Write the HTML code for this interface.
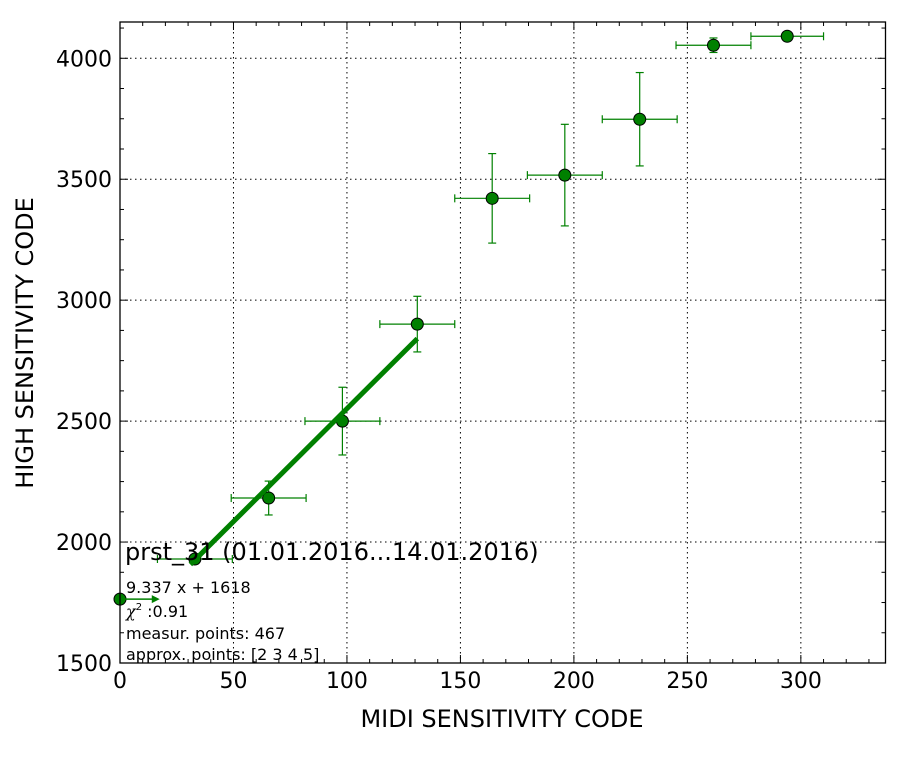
<!DOCTYPE html>
<html><head><meta charset="utf-8"><style>
body{margin:0;background:#fff;}
svg text{font-family:"DejaVu Sans","Liberation Sans",sans-serif;}
</style></head><body>
<svg id="chart" width="912" height="762" xmlns="http://www.w3.org/2000/svg">
<rect width="912" height="762" fill="#fff"/>
<g id="grid"></g><g id="ticks"></g><g id="marks"></g>
<rect x="120" y="22" width="765.5" height="641" fill="none" stroke="#000" stroke-width="1.3"/>
<text x="502" y="727" font-size="24" text-anchor="middle">MIDI SENSITIVITY CODE</text>
<text transform="translate(33,343) rotate(-90)" font-size="24" text-anchor="middle">HIGH SENSITIVITY CODE</text>
<g>
<text x="125" y="560" font-size="24">prst_31 (01.01.2016...14.01.2016)</text>
<text x="126" y="593" font-size="16">9.337 x + 1618</text>
<text x="126" y="617" font-size="16"><tspan font-family="DejaVu Serif,serif" font-style="italic">χ</tspan><tspan font-size="10" dy="-7">2</tspan><tspan dy="7"> :0.91</tspan></text>
<text x="126" y="639" font-size="16">measur. points: 467</text>
<text x="126" y="660" font-size="16">approx. points: [2 3 4 5]</text>
</g>
</svg>
<script>
const xVals=[0,33,65.5,98,131,164,196,229,261.5,294];
const yVals=[1764,1930,2182,2500,2901,3421,3517,3748,4054,4091];
const xErr=[0,16.5,16.5,16.5,16.5,16.5,16.5,16.5,16.5,16];
const yErr=[0,12,70,140,115,185,210,193,30,0];
const xTicks=[0,50,100,150,200,250,300];
const yTicks=[1500,2000,2500,3000,3500,4000];
const fitSlope=9.337, fitIntercept=1618, fitRange=[31,131];
const X0=120,X1=885.5,Y0=663,Y1=22,xmin=0,xmax=337.3,ymin=1500,ymax=4150;
const sx=v=>X0+(v-xmin)/(xmax-xmin)*(X1-X0);
const sy=v=>Y0-(v-ymin)/(ymax-ymin)*(Y0-Y1);
const NS="http://www.w3.org/2000/svg";
function mk(p,t,a){const e=document.createElementNS(NS,t);for(const k in a)e.setAttribute(k,a[k]);p.appendChild(e);return e;}
const grid=document.getElementById('grid'),ticks=document.getElementById('ticks'),marks=document.getElementById('marks');
xTicks.forEach(v=>{const x=sx(v);
 const g=mk(grid,'line',{x1:x,x2:x,y1:Y1,y2:Y0,stroke:'#000','stroke-dasharray':'1.5,3.5','stroke-width':1});
 
 
 const t=mk(ticks,'text',{x:x,y:688,'font-size':22,'text-anchor':'middle'});t.textContent=v;
 
 
});
for(let v=10;v<xmax;v+=10){const x=sx(v);const L=(v%50===0)?8:4;
 mk(ticks,'line',{x1:x,x2:x,y1:Y0,y2:Y0-L,stroke:'#000'});mk(ticks,'line',{x1:x,x2:x,y1:Y1,y2:Y1+L,stroke:'#000'});}
yTicks.forEach(v=>{const y=sy(v);
 const g=mk(grid,'line',{x1:X0,x2:X1,y1:y,y2:y,stroke:'#000','stroke-dasharray':'1.5,3.5','stroke-width':1});
 
 
 const t=mk(ticks,'text',{x:112,y:y+8,'font-size':22,'text-anchor':'end'});t.textContent=v;
 
 
});
for(let v=1625;v<ymax;v+=125){const y=sy(v);const L=(v%500===0)?8:4;
 mk(ticks,'line',{x1:X0,x2:X0+L,y1:y,y2:y,stroke:'#000'});mk(ticks,'line',{x1:X1,x2:X1-L,y1:y,y2:y,stroke:'#000'});}
const G='#008000';
xVals.forEach((xv,i)=>{const cx=sx(xv),cy=sy(yVals[i]);
 const g=mk(marks,'g',{});
 
 
 if(xErr[i]>0){const xl=sx(xv-xErr[i]),xr=sx(xv+xErr[i]);
  mk(g,'line',{x1:xl,x2:xr,y1:cy,y2:cy,stroke:G,'stroke-width':1.2});
  mk(g,'line',{x1:xl,x2:xl,y1:cy-4,y2:cy+4,stroke:G,'stroke-width':1.2});
  mk(g,'line',{x1:xr,x2:xr,y1:cy-4,y2:cy+4,stroke:G,'stroke-width':1.2});}
 if(yErr[i]>0){const yt=sy(yVals[i]+yErr[i]),yb=sy(yVals[i]-yErr[i]);
  mk(g,'line',{x1:cx,x2:cx,y1:yt,y2:yb,stroke:G,'stroke-width':1.2});
  mk(g,'line',{x1:cx-4,x2:cx+4,y1:yt,y2:yt,stroke:G,'stroke-width':1.2});
  mk(g,'line',{x1:cx-4,x2:cx+4,y1:yb,y2:yb,stroke:G,'stroke-width':1.2});}
 mk(g,'circle',{cx:cx,cy:cy,r:6,fill:G,stroke:'#000','stroke-width':1});
});
const fl=mk(marks,'line',{x1:sx(fitRange[0]),y1:sy(fitIntercept+fitSlope*fitRange[0]),x2:sx(fitRange[1]),y2:sy(fitIntercept+fitSlope*fitRange[1]),stroke:G,'stroke-width':5});


const ar=mk(marks,'g',{});


mk(ar,'line',{x1:sx(0),x2:sx(15),y1:sy(yVals[0]),y2:sy(yVals[0]),stroke:G,'stroke-width':1.5});
mk(ar,'polygon',{points:`${sx(17.5)},${sy(yVals[0])} ${sx(14)},${sy(yVals[0])-4} ${sx(14)},${sy(yVals[0])+4}`,fill:G});
</script>
</body></html>
